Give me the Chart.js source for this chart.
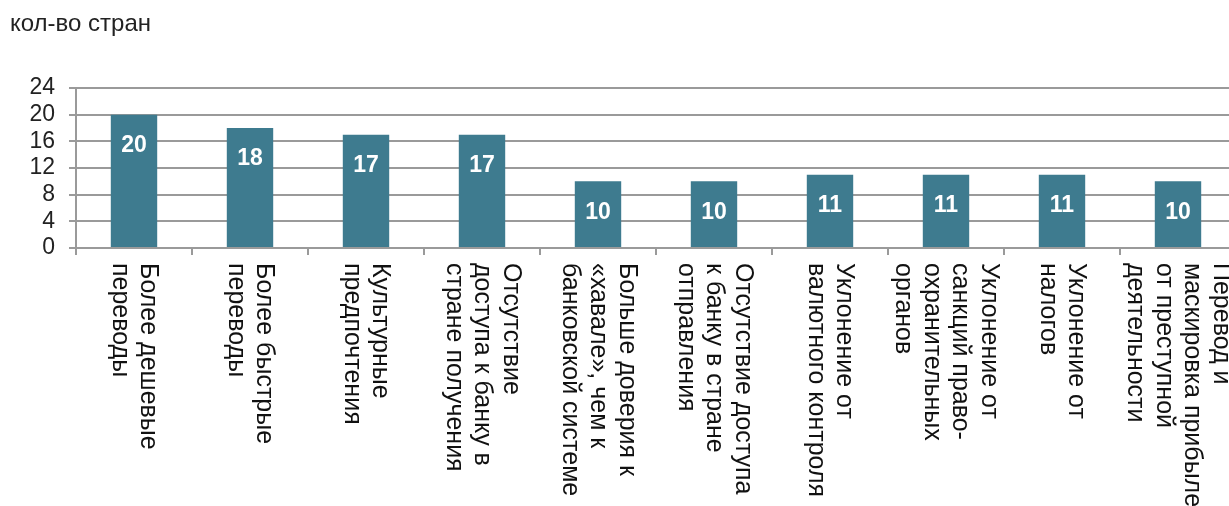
<!DOCTYPE html>
<html>
<head>
<meta charset="utf-8">
<script src="https://cdn.jsdelivr.net/npm/chart.js@4/dist/chart.umd.min.js"></script>
<style>
  html, body { margin: 0; padding: 0; background: #fff; overflow: hidden; }
  #wrap { width: 1236px; height: 506px; position: relative; }
</style>
</head>
<body>
<div id="wrap"><canvas id="reasonChart"></canvas></div>
<script>
// categories (multi-line labels, drawn rotated under the axis)
const reasonLabels = [
    ["Более дешевые", "переводы"],
    ["Более быстрые", "переводы"],
    ["Культурные", "предпочтения"],
    ["Отсутствие", "доступа к банку в", "стране получения"],
    ["Больше доверия к", "«хавале», чем к", "банковской системе"],
    ["Отсутствие доступа", "к банку в стране", "отправления"],
    ["Уклонение от", "валютного контроля"],
    ["Уклонение от", "санкций право-", "охранительных", "органов"],
    ["Уклонение от", "налогов"],
    ["Перевод и", "маскировка прибылей", "от преступной", "деятельности"]
];
const countryCounts = [20, 18, 17, 17, 10, 10, 11, 11, 11, 10];
const yTicks = [0, 4, 8, 12, 16, 20, 24];
const titleText = "кол-во стран";

const barColor = "#3e7b8f";
const gridColor = "#9a9a9a";
const fontFamily = "'Liberation Sans', Arial, sans-serif";

// white numbers inside the bars
const valueLabels = {
    id: "valueLabels",
    afterDatasetsDraw(chart){
        const ctx = chart.ctx;
        const meta = chart.getDatasetMeta(0);
        ctx.save();
        ctx.fillStyle = "#ffffff";
        ctx.font = "bold 23px " + fontFamily;
        ctx.textAlign = "center";
        ctx.textBaseline = "middle";
        meta.data.forEach((bar, i) => {
            ctx.fillText(String(countryCounts[i]), bar.x, bar.y + 31);
        });
        ctx.restore();
    }
};

// category labels turned 90deg clockwise, reading downward
const rotatedLabels = {
    id: "rotatedLabels",
    afterDraw(chart){
        const ctx = chart.ctx;
        const xs = chart.scales.x;
        const lineH = 28.5;
        ctx.save();
        ctx.fillStyle = "#111111";
        ctx.font = "25px " + fontFamily;
        ctx.textAlign = "left";
        ctx.textBaseline = "middle";
        reasonLabels.forEach((lines, i) => {
            const x = xs.getPixelForValue(i);
            ctx.save();
            ctx.translate(x, xs.top + 15);
            ctx.rotate(Math.PI / 2);
            lines.forEach((line, j) => {
                ctx.fillText(line, 0, j * lineH - (lines.length - 1) * lineH / 2);
            });
            ctx.restore();
        });
        ctx.restore();
    }
};

new Chart("reasonChart", {
    type: "bar",
    data: {
        labels: reasonLabels,
        datasets: [{
            data: countryCounts,
            backgroundColor: barColor,
            barPercentage: 0.4,
            categoryPercentage: 1.0
        }]
    },
    plugins: [valueLabels, rotatedLabels],
    options: {
        responsive: true,
        maintainAspectRatio: false,
        animation: false,
        layout: {
            padding: { left: 10, right: 0, top: 0, bottom: 0 }
        },
        plugins: {
            legend: { display: false },
            tooltip: { enabled: false },
            title: {
                display: true,
                text: titleText,
                align: "start",
                color: "#222222",
                font: { family: fontFamily, size: 24, weight: "normal", lineHeight: 1.2 },
                padding: { top: 10, bottom: 49.2 }
            }
        },
        scales: {
            x: {
                ticks: { display: false },
                grid: {
                    drawOnChartArea: false,
                    drawTicks: true,
                    tickLength: 7,
                    color: gridColor,
                    lineWidth: 2
                },
                border: { display: true, color: gridColor, width: 2 },
                afterFit(scale){ scale.height = 258; }
            },
            y: {
                min: 0,
                max: 24,
                afterBuildTicks(scale){ scale.ticks = yTicks.map(v => ({ value: v })); },
                ticks: {
                    autoSkip: false,
                    color: "#222222",
                    padding: 14,
                    font: { family: fontFamily, size: 23 }
                },
                grid: {
                    color: gridColor,
                    lineWidth: 2,
                    drawTicks: true,
                    tickLength: 7
                },
                border: { display: true, color: gridColor, width: 2 },
                afterFit(scale){ scale.width = 66; }
            }
        }
    }
});
</script>
</body>
</html>
